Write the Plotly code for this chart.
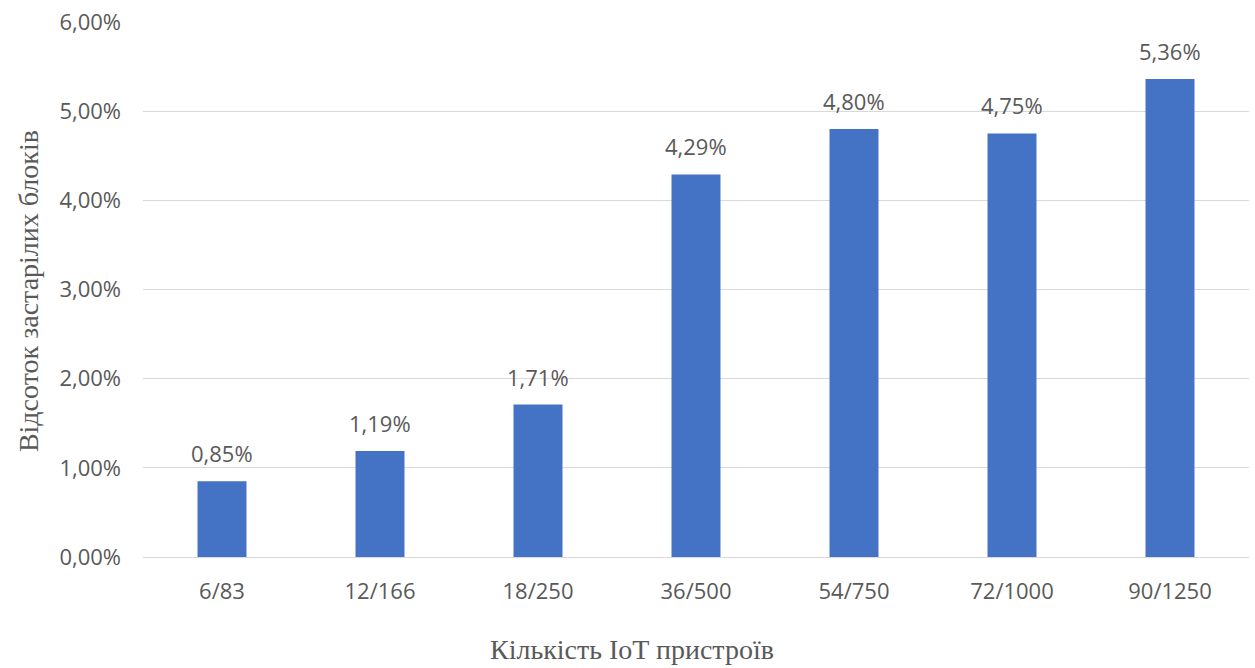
import plotly.graph_objects as go

# Number of IoT devices (nodes / devices) and share of stale blocks
categories = ["6/83", "12/166", "18/250", "36/500", "54/750", "72/1000", "90/1250"]
stale_share = [0.0085, 0.0119, 0.0171, 0.0429, 0.0480, 0.0475, 0.0536]
y_ticks = [0, 0.01, 0.02, 0.03, 0.04, 0.05, 0.06]

BAR_COLOR = "#4472C4"
TEXT_GRAY = "#595959"
GRID = "#D9D9D9"
SANS = "Open Sans"
SERIF = "Liberation Serif"

fig = go.Figure()
fig.add_trace(go.Bar(
    x=categories,
    y=stale_share,
    marker=dict(color=BAR_COLOR, line=dict(width=0)),
    hoverinfo="skip",
))

# value labels above bars
for c, v in zip(categories, stale_share):
    fig.add_annotation(
        x=c, y=v, xref="x", yref="y",
        text=f"{v*100:.2f}%".replace(".", ","),
        showarrow=False, yanchor="bottom", yshift=11,
        font=dict(family=SANS, size=22, color=TEXT_GRAY),
    )

# axis titles
fig.add_annotation(
    text="Кількість IoT пристроїв", xref="paper", yref="paper",
    x=0.442, y=-0.173, xanchor="center", yanchor="middle", showarrow=False,
    font=dict(family=SERIF, size=28, color=TEXT_GRAY),
)
fig.add_annotation(
    text="Відсоток застарілих блоків", xref="paper", yref="paper",
    x=-0.104, y=0.497, xanchor="center", yanchor="middle", showarrow=False,
    textangle=-90,
    font=dict(family=SERIF, size=28, color=TEXT_GRAY),
)

fig.update_layout(
    width=1255, height=668,
    margin=dict(l=143, r=6, t=22, b=111),
    paper_bgcolor="white", plot_bgcolor="white",
    separators=",.",
    bargap=0.69,
    showlegend=False,
    xaxis=dict(
        showgrid=False,
        showline=True, linecolor=GRID, linewidth=1,
        ticks="", ticklabelstandoff=15,
        tickfont=dict(family=SANS, size=22, color=TEXT_GRAY),
    ),
    yaxis=dict(
        range=[0, 0.06],
        tickvals=y_ticks,
        tickformat=".2%",
        showgrid=True, gridcolor=GRID, gridwidth=1,
        zeroline=False, showline=False,
        ticks="", ticklabelstandoff=21,
        tickfont=dict(family=SANS, size=22, color=TEXT_GRAY),
    ),
)

fig.write_html("out.html")
